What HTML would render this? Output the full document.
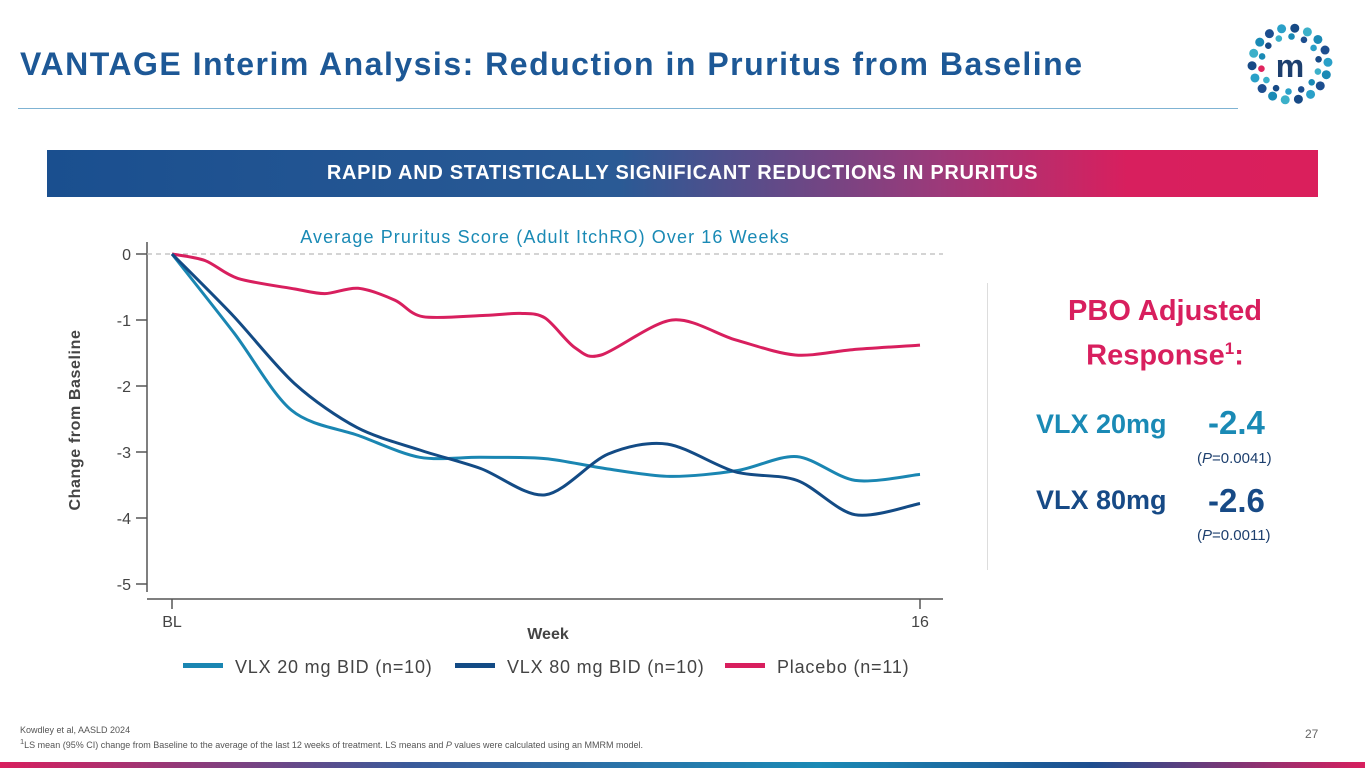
<!DOCTYPE html>
<html><head><meta charset="utf-8"><style>
body{margin:0;width:1365px;height:768px;overflow:hidden;background:#fff;font-family:"Liberation Sans",sans-serif;position:relative}
.a{position:absolute}
</style></head><body>
<div class="a" style="left:20px;top:46px;font-size:32px;font-weight:bold;color:#1d5896;letter-spacing:1.5px">VANTAGE Interim Analysis: Reduction in Pruritus from Baseline</div>
<div class="a" style="left:18px;top:108px;width:1220px;height:1px;background:#7fb3d3"></div>
<svg class="a" style="left:1245px;top:22px" width="90" height="84" viewBox="0 0 90 84">
<g id="dots"></g><text x="45" y="55" text-anchor="middle" font-size="32" font-weight="bold" fill="#1d3f6e" font-family="Liberation Sans">m</text></svg>
<div class="a" style="left:47px;top:150px;width:1271px;height:47px;background:linear-gradient(90deg,#1a4f8f 0%,#2a5a95 45%,#9b3a7a 70%,#d81f5e 85%,#da1f5c 100%);color:#fff;font-weight:bold;font-size:20px;letter-spacing:0.7px;text-align:center;line-height:47px">RAPID AND STATISTICALLY SIGNIFICANT REDUCTIONS IN PRURITUS</div>
<svg class="a" id="chart" style="left:0;top:0" width="1365" height="768"></svg>
<div class="a" style="left:987px;top:283px;width:1px;height:287px;background:#ddd"></div>
<div class="a" style="left:1040px;top:292px;width:250px;text-align:center;font-size:29px;font-weight:bold;color:#d81f5e;line-height:38px">PBO Adjusted<br>Response<sup style="font-size:17px">1</sup>:</div>
<div class="a" style="left:1036px;top:409px;font-size:27px;font-weight:bold;color:#1a8ab5">VLX 20mg</div>
<div class="a" style="left:1208px;top:404px;font-size:33px;font-weight:bold;color:#1a8ab5">-2.4</div>
<div class="a" style="left:1197px;top:450px;font-size:15px;color:#1d3f6e">(<i>P</i>=0.0041)</div>
<div class="a" style="left:1036px;top:485px;font-size:27px;font-weight:bold;color:#174a86">VLX 80mg</div>
<div class="a" style="left:1208px;top:482px;font-size:33px;font-weight:bold;color:#174a86">-2.6</div>
<div class="a" style="left:1197px;top:527px;font-size:15px;color:#1d3f6e">(<i>P</i>=0.0011)</div>
<div class="a" style="left:20px;top:725px;font-size:9px;color:#555">Kowdley et al, AASLD 2024</div>
<div class="a" style="left:20px;top:737px;font-size:9px;color:#555"><sup>1</sup>LS mean (95% CI) change from Baseline to the average of the last 12 weeks of treatment. LS means and <i>P</i> values were calculated using an MMRM model.</div>
<div class="a" style="left:1305px;top:727px;font-size:12px;color:#666">27</div>
<div class="a" style="left:0;top:762px;width:1365px;height:6px;background:linear-gradient(90deg,#d81f5e,#3a5a9a 30%,#1a8ab5 60%,#1d4e8f 80%,#d81f5e)"></div>
<script>
const weeks20=[0,1.33,2.56,3.99,5.3,6.6,7.98,9.26,10.65,12.1,13.37,14.61,16];
const vals20=[0,-1.2,-2.37,-2.75,-3.08,-3.08,-3.1,-3.25,-3.37,-3.28,-3.07,-3.43,-3.34];
const weeks80=[0,1.3,2.63,3.96,5.3,6.6,7.98,9.33,10.6,12.05,13.37,14.61,16];
const vals80=[0,-0.93,-1.97,-2.63,-2.97,-3.25,-3.65,-3.03,-2.88,-3.3,-3.43,-3.95,-3.78];
const weeksPbo=[0,0.71,1.41,2.63,3.27,3.98,4.77,5.37,6.7,7.45,7.98,8.62,9.18,10.7,12.05,13.33,14.55,16];
const valsPbo=[0,-0.1,-0.37,-0.53,-0.6,-0.52,-0.7,-0.95,-0.93,-0.9,-0.97,-1.42,-1.53,-1.0,-1.3,-1.53,-1.45,-1.38];
const yTicks=[0,-1,-2,-3,-4,-5];
const xTickLabels=['BL','16'];
const xTickWeeks=[0,16];
const NS='http://www.w3.org/2000/svg';
const svg=document.getElementById('chart');
const X=w=>172+w*(920-172)/16, Y=v=>254-v*66;
function mk(t,a,p){const e=document.createElementNS(NS,t);for(const k in a)e.setAttribute(k,a[k]);(p||svg).appendChild(e);return e;}
const dg=document.getElementById('dots');
const rings=[[38,18,4.5],[29,14,3.3]];
const cols=['#1a8ab5','#1d4e8f','#2aa0c8','#174a86','#3bb0c9'];
let ci=0;
rings.forEach(r=>{for(let i=0;i<r[1];i++){const a=i/r[1]*Math.PI*2+r[0];const c=mk('circle',{cx:45+Math.cos(a)*r[0],cy:42+Math.sin(a)*r[0]*0.95,r:r[2],fill:(r[0]==29&&i==12)?'#e0245e':cols[(ci++)%5]},dg);

}});
let e=mk('line',{x1:147,y1:242,x2:147,y2:592,stroke:'#555','stroke-width':1.5});


e=mk('line',{x1:147,y1:599,x2:943,y2:599,stroke:'#555','stroke-width':1.5});


e=mk('line',{x1:147,y1:Y(0),x2:943,y2:Y(0),stroke:'#bbb','stroke-width':1.2,'stroke-dasharray':'5,4'});


yTicks.forEach(v=>{
 e=mk('line',{x1:136,y1:Y(v),x2:147,y2:Y(v),stroke:'#555','stroke-width':1.5});
 
 
 e=mk('text',{x:131,y:Y(v)+6,'text-anchor':'end','font-size':16,fill:'#444','font-family':'Liberation Sans'});e.textContent=v;
 
 
});
xTickWeeks.forEach((w,i)=>{
 e=mk('line',{x1:X(w),y1:599,x2:X(w),y2:609,stroke:'#555','stroke-width':1.5});
 
 
 e=mk('text',{x:X(w),y:627,'text-anchor':'middle','font-size':16,fill:'#444','font-family':'Liberation Sans'});e.textContent=xTickLabels[i];
 
 
});
e=mk('text',{x:548,y:639,'text-anchor':'middle','font-size':16,'font-weight':'bold',fill:'#444','font-family':'Liberation Sans'});e.textContent='Week';


e=mk('text',{x:0,y:0,transform:'translate(80,420) rotate(-90)','text-anchor':'middle','font-size':16,'font-weight':'bold',fill:'#444','font-family':'Liberation Sans','letter-spacing':'0.6'});e.textContent='Change from Baseline';


e=mk('text',{x:545,y:243,'text-anchor':'middle','font-size':18,fill:'#1a8ab5','font-family':'Liberation Sans','letter-spacing':'1.1'});e.textContent='Average Pruritus Score (Adult ItchRO) Over 16 Weeks';


function series(ws,vs,col,name){
 const P=ws.map((w,i)=>[X(w),Y(vs[i])]);
 let d='M'+P[0][0].toFixed(1)+','+P[0][1].toFixed(1);
 for(let i=0;i<P.length-1;i++){
  const p0=P[Math.max(0,i-1)],p1=P[i],p2=P[i+1],p3=P[Math.min(P.length-1,i+2)],t=0.15;
  d+=' C'+(p1[0]+(p2[0]-p0[0])*t).toFixed(1)+','+(p1[1]+(p2[1]-p0[1])*t).toFixed(1)+' '+(p2[0]-(p3[0]-p1[0])*t).toFixed(1)+','+(p2[1]-(p3[1]-p1[1])*t).toFixed(1)+' '+p2[0].toFixed(1)+','+p2[1].toFixed(1);
 }
 const p=mk('path',{d:d,fill:'none',stroke:col,'stroke-width':3,'stroke-linejoin':'round'});
 
 
}
series(weeksPbo,valsPbo,'#d81f5e','placebo-line');
series(weeks20,vals20,'#1a86b2','vlx-20mg-line');
series(weeks80,vals80,'#134b85','vlx-80mg-line');
const legend=[['VLX 20 mg BID (n=10)','#1a86b2',183],['VLX 80 mg BID (n=10)','#134b85',455],['Placebo (n=11)','#d81f5e',725]];
legend.forEach(l=>{
 e=mk('rect',{x:l[2],y:663,width:40,height:5,fill:l[1]});
 
 
 e=mk('text',{x:l[2]+52,y:673,'font-size':18,fill:'#444','font-family':'Liberation Sans','letter-spacing':'0.8'});e.textContent=l[0];
 
 
});
</script>
</body></html>
